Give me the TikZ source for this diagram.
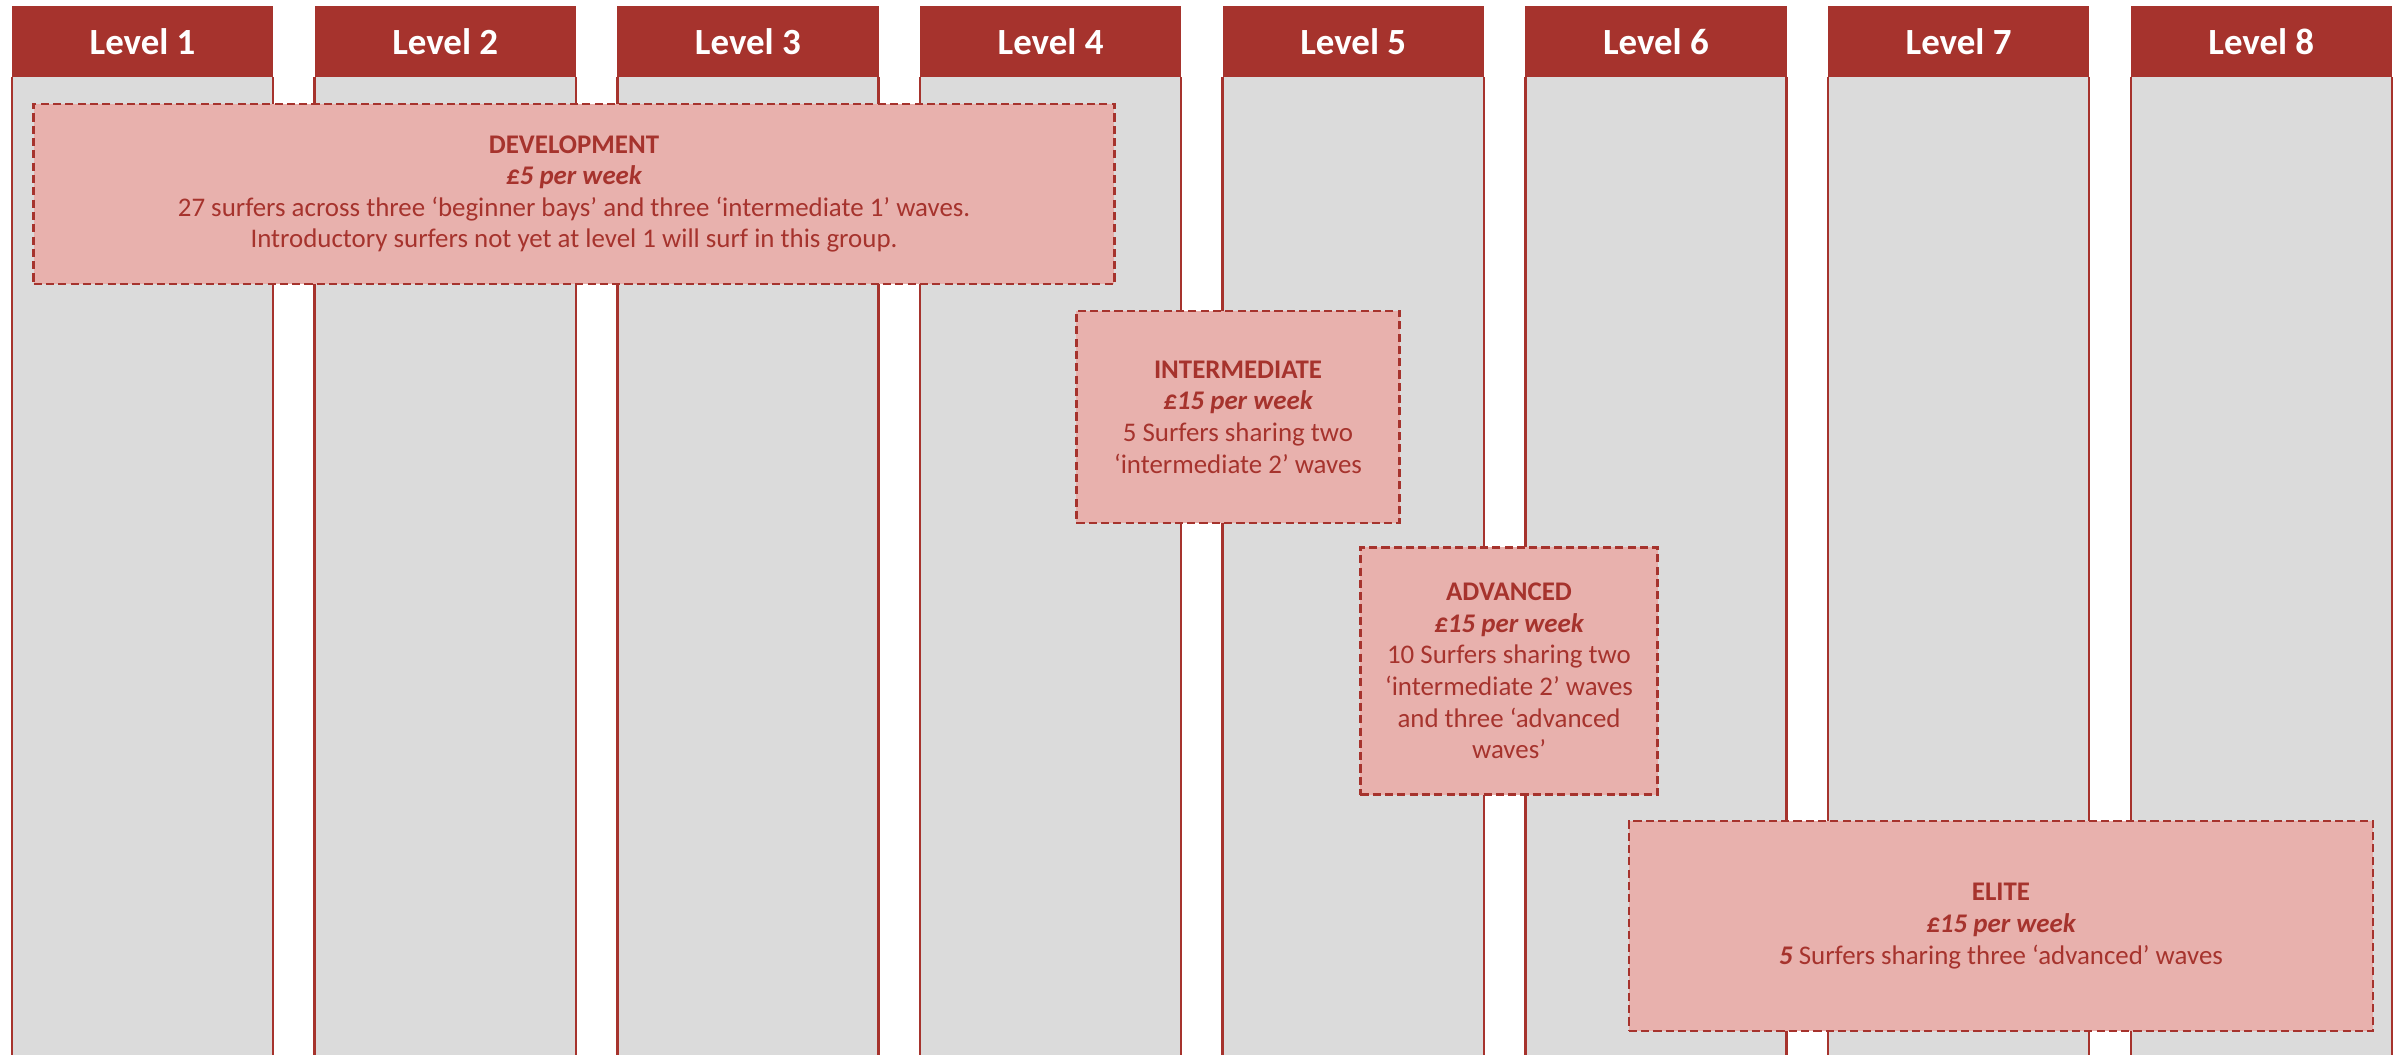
\documentclass[tikz,border=0pt]{standalone}
\usepackage{fontspec}
\setmainfont{Carlito}
\usetikzlibrary{positioning}
\definecolor{levelred}{RGB}{166,51,45}
\definecolor{groupfill}{RGB}{232,177,173}
\definecolor{colgray}{RGB}{219,219,219}
\newcommand{\grouphead}[2]{{\bfseries #1}\\{\bfseries\itshape #2}}

\begin{document}
\begin{tikzpicture}
[x=0.01cm,y=-0.01cm,node distance=0.415cm,
header/.style={fill=levelred,text=white,minimum width=2.61cm,minimum height=0.71cm,
    inner sep=0pt,outer sep=0pt,font=\fontsize{10.5}{12}\selectfont\bfseries},
column/.style={fill=colgray,minimum width=2.61cm,minimum height=9.78cm,inner sep=0pt,
    outer sep=0pt,below=0pt of #1},
colside/.style={levelred,line width=0.7pt},
group/.style={draw=levelred,dash pattern=on 2.3pt off 1.2pt,line width=0.7pt,
    fill=groupfill,text=levelred,align=center,inner sep=0pt,
    font=\fontsize{7.65}{9}\selectfont}]
\useasboundingbox (0,0) rectangle (2405,1055);
%%%%%%%%%%
%% level headers
\node (h1) [header,anchor=north west] at (12,6) {Level 1};
\node (h2) [header,right=of h1] {Level 2};
\node (h3) [header,right=of h2] {Level 3};
\node (h4) [header,right=of h3] {Level 4};
\node (h5) [header,right=of h4] {Level 5};
\node (h6) [header,right=of h5] {Level 6};
\node (h7) [header,right=of h6] {Level 7};
\node (h8) [header,right=of h7] {Level 8};
%% columns
\node (c1) [column=h1] {};
\node (c2) [column=h2] {};
\node (c3) [column=h3] {};
\node (c4) [column=h4] {};
\node (c5) [column=h5] {};
\node (c6) [column=h6] {};
\node (c7) [column=h7] {};
\node (c8) [column=h8] {};
\draw [colside] (c1.north west) -- (c1.south west) (c1.north east) -- (c1.south east);
\draw [colside] (c2.north west) -- (c2.south west) (c2.north east) -- (c2.south east);
\draw [colside] (c3.north west) -- (c3.south west) (c3.north east) -- (c3.south east);
\draw [colside] (c4.north west) -- (c4.south west) (c4.north east) -- (c4.south east);
\draw [colside] (c5.north west) -- (c5.south west) (c5.north east) -- (c5.south east);
\draw [colside] (c6.north west) -- (c6.south west) (c6.north east) -- (c6.south east);
\draw [colside] (c7.north west) -- (c7.south west) (c7.north east) -- (c7.south east);
\draw [colside] (c8.north west) -- (c8.south west) (c8.north east) -- (c8.south east);
%%
%% groups
\node (dev) [group,minimum width=10.8cm,minimum height=1.8cm] at (574,194)
{\grouphead{DEVELOPMENT}{£5 per week}\\
27 surfers across three ‘beginner bays’ and three ‘intermediate 1’ waves.\\
Introductory surfers not yet at level 1 will surf in this group.};
\node (inter) [group,minimum width=3.23cm,minimum height=2.12cm] at (1238,417)
{\grouphead{INTERMEDIATE}{£15 per week}\\
5 Surfers sharing two\\‘intermediate 2’ waves};
\node (adv) [group,minimum width=2.97cm,minimum height=2.47cm] at (1509,671)
{\grouphead{ADVANCED}{£15 per week}\\
10 Surfers sharing two\\‘intermediate 2’ waves\\and three ‘advanced\\waves’};
\node (elite) [group,minimum width=7.44cm,minimum height=2.1cm] at (2001,926)
{\grouphead{ELITE}{£15 per week}\\
{\bfseries\itshape 5} Surfers sharing three ‘advanced’ waves};
\end{tikzpicture}
\end{document}
